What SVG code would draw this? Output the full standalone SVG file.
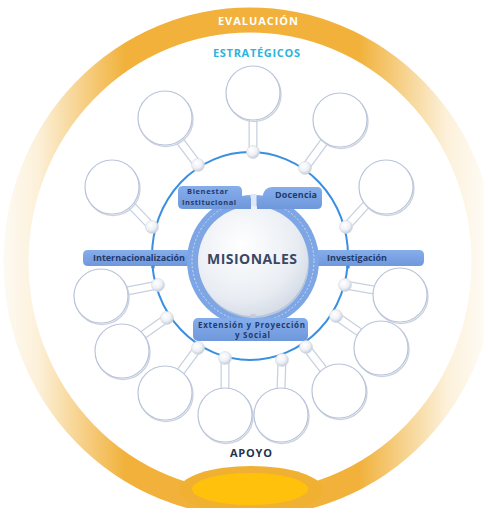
<svg xmlns="http://www.w3.org/2000/svg" width="484" height="508" viewBox="0 0 484 508">
<defs>
  <linearGradient id="ringGrad" x1="0" y1="0" x2="484" y2="0" gradientUnits="userSpaceOnUse">
    <stop offset="0" stop-color="#fefbf5"/>
    <stop offset="0.08" stop-color="#fcf0d8"/>
    <stop offset="0.26" stop-color="#f1b13a"/>
    <stop offset="0.74" stop-color="#f1b13a"/>
    <stop offset="0.92" stop-color="#fcf0d8"/>
    <stop offset="1" stop-color="#fefbf5"/>
  </linearGradient>
  <radialGradient id="centerGrad" cx="0.4" cy="0.35" r="0.7">
    <stop offset="0" stop-color="#ffffff"/>
    <stop offset="0.7" stop-color="#e9edf3"/>
    <stop offset="1" stop-color="#d3dae5"/>
  </radialGradient>
  <radialGradient id="nodeGrad" cx="0.4" cy="0.35" r="0.65">
    <stop offset="0" stop-color="#ffffff"/>
    <stop offset="0.6" stop-color="#eef1f5"/>
    <stop offset="1" stop-color="#c3ccd9"/>
  </radialGradient>
  <linearGradient id="tabGrad" x1="0" y1="0" x2="0" y2="1">
    <stop offset="0" stop-color="#86adeb"/>
    <stop offset="1" stop-color="#6f98dc"/>
  </linearGradient>
</defs>
<style>
  .lbl { font-family: "Open Sans", "Liberation Sans", sans-serif; font-weight: 700; text-anchor: middle; }
  .tab { fill: url(#tabGrad); }
  .tabtxt { fill: #1f3b6b; font-size: 9px; }
  .small { font-size: 8px; }
  .tiny { font-size: 7.5px; }
  .bubble-shadow { fill: none; stroke: #cdd3de; stroke-width: 1.4; }
  .bubble { fill: #ffffff; stroke: #b9c4db; stroke-width: 1.2; }
  .stem-out { stroke: #c6d0e0; stroke-width: 9; stroke-linecap: butt; }
  .stem-in { stroke: #ffffff; stroke-width: 6.5; stroke-linecap: butt; }
  .node { fill: url(#nodeGrad); stroke: #d3d9e3; stroke-width: 0.6; }
</style>
<rect width="484" height="508" fill="#ffffff"/>

<!-- outer evaluation ring -->
<g id="ring">
  <ellipse cx="250" cy="262" rx="234" ry="242" fill="none" stroke="url(#ringGrad)" stroke-width="25"/>
  <ellipse cx="251" cy="490" rx="72" ry="24" fill="#f0b132"/>
  <ellipse cx="250" cy="489" rx="58" ry="16" fill="#ffc10c"/>
  <text class="lbl" x="258" y="25" font-size="11" fill="#ffffff" textLength="80">EVALUACIÓN</text>
</g>
<text id="estrategicos" class="lbl" x="256.5" y="57" font-size="11" fill="#2db3dc" textLength="87">ESTRATÉGICOS</text>
<text id="apoyo" class="lbl" x="251" y="457" font-size="11" fill="#1d3450" textLength="42">APOYO</text>

<!-- thin blue orbit -->
<ellipse id="orbit" cx="250" cy="256" rx="98" ry="104" fill="none" stroke="#3a8fe0" stroke-width="2"/>

<!-- connectors (stems) -->
<g id="connectors">
  <g class="stem-out">
    <line x1="253" y1="152" x2="253" y2="119"/>
    <line x1="198" y1="165" x2="180" y2="141"/>
    <line x1="152" y1="227" x2="131" y2="205"/>
    <line x1="305" y1="168" x2="324" y2="142"/>
    <line x1="346" y1="227" x2="366" y2="205"/>
    <line x1="158" y1="285" x2="127" y2="291"/>
    <line x1="167" y1="318" x2="143" y2="335"/>
    <line x1="198" y1="348" x2="181" y2="371"/>
    <line x1="225" y1="358" x2="225" y2="389"/>
    <line x1="282" y1="360" x2="281" y2="389"/>
    <line x1="306" y1="347" x2="323" y2="369"/>
    <line x1="336" y1="316" x2="359" y2="332"/>
    <line x1="345" y1="285" x2="374" y2="290"/>
  </g>
  <g class="stem-in">
    <line x1="253" y1="152" x2="253" y2="119"/>
    <line x1="198" y1="165" x2="180" y2="141"/>
    <line x1="152" y1="227" x2="131" y2="205"/>
    <line x1="305" y1="168" x2="324" y2="142"/>
    <line x1="346" y1="227" x2="366" y2="205"/>
    <line x1="158" y1="285" x2="127" y2="291"/>
    <line x1="167" y1="318" x2="143" y2="335"/>
    <line x1="198" y1="348" x2="181" y2="371"/>
    <line x1="225" y1="358" x2="225" y2="389"/>
    <line x1="282" y1="360" x2="281" y2="389"/>
    <line x1="306" y1="347" x2="323" y2="369"/>
    <line x1="336" y1="316" x2="359" y2="332"/>
    <line x1="345" y1="285" x2="374" y2="290"/>
  </g>
</g>

<!-- bubbles -->
<g id="bubble-1"><circle class="bubble-shadow" cx="254" cy="94.5" r="27"/><circle class="bubble" cx="253" cy="93" r="27"/></g>
<g id="bubble-2"><circle class="bubble-shadow" cx="166" cy="119.5" r="27"/><circle class="bubble" cx="165" cy="118" r="27"/></g>
<g id="bubble-3"><circle class="bubble-shadow" cx="113" cy="188.5" r="27"/><circle class="bubble" cx="112" cy="187" r="27"/></g>
<g id="bubble-4"><circle class="bubble-shadow" cx="341" cy="121.5" r="27"/><circle class="bubble" cx="340" cy="120" r="27"/></g>
<g id="bubble-5"><circle class="bubble-shadow" cx="387" cy="188.5" r="27"/><circle class="bubble" cx="386" cy="187" r="27"/></g>
<g id="bubble-6"><circle class="bubble-shadow" cx="102" cy="297.5" r="27"/><circle class="bubble" cx="101" cy="296" r="27"/></g>
<g id="bubble-7"><circle class="bubble-shadow" cx="123" cy="352.5" r="27"/><circle class="bubble" cx="122" cy="351" r="27"/></g>
<g id="bubble-8"><circle class="bubble-shadow" cx="166" cy="394.5" r="27"/><circle class="bubble" cx="165" cy="393" r="27"/></g>
<g id="bubble-9"><circle class="bubble-shadow" cx="226" cy="416.5" r="27"/><circle class="bubble" cx="225" cy="415" r="27"/></g>
<g id="bubble-10"><circle class="bubble-shadow" cx="282" cy="416.5" r="27"/><circle class="bubble" cx="281" cy="415" r="27"/></g>
<g id="bubble-11"><circle class="bubble-shadow" cx="340" cy="392.5" r="27"/><circle class="bubble" cx="339" cy="391" r="27"/></g>
<g id="bubble-12"><circle class="bubble-shadow" cx="382" cy="349.5" r="27"/><circle class="bubble" cx="381" cy="348" r="27"/></g>
<g id="bubble-13"><circle class="bubble-shadow" cx="401" cy="296.5" r="27"/><circle class="bubble" cx="400" cy="295" r="27"/></g>

<!-- joints on orbit -->
<g id="joints">
  <circle class="node" cx="253" cy="152" r="6.5"/>
  <circle class="node" cx="198" cy="165" r="6.5"/>
  <circle class="node" cx="152" cy="227" r="6.5"/>
  <circle class="node" cx="305" cy="168" r="6.5"/>
  <circle class="node" cx="346" cy="227" r="6.5"/>
  <circle class="node" cx="158" cy="285" r="6.5"/>
  <circle class="node" cx="167" cy="318" r="6.5"/>
  <circle class="node" cx="198" cy="348" r="6.5"/>
  <circle class="node" cx="225" cy="358" r="6.5"/>
  <circle class="node" cx="282" cy="360" r="6.5"/>
  <circle class="node" cx="306" cy="347" r="6.5"/>
  <circle class="node" cx="336" cy="316" r="6.5"/>
  <circle class="node" cx="345" cy="285" r="6.5"/>
</g>

<!-- side bars -->
<g id="internacionalizacion">
  <path class="tab" d="M88 250 H210 V266 H88 Q83 266 83 261 V255 Q83 250 88 250 Z"/>
  <circle cx="153" cy="267" r="1.8" fill="#3a8fe0"/>
  <text class="lbl tabtxt" x="139" y="261" textLength="92">Internacionalización</text>
</g>
<g id="investigacion">
  <path class="tab" d="M300 250 H419 Q424 250 424 255 V261 Q424 266 419 266 H300 Z"/>
  <circle cx="348" cy="267" r="1.8" fill="#3a8fe0"/>
  <text class="lbl tabtxt" x="357" y="261" textLength="60">Investigación</text>
</g>

<!-- central misionales -->
<g id="misionales">
  <circle cx="253" cy="261" r="66" fill="#7ea6e5"/>
  <rect x="250.5" y="194" width="6" height="12" fill="#dfe8f6"/>
  <circle cx="253" cy="261" r="61" fill="none" stroke="#dbe6f8" stroke-width="0.8" stroke-dasharray="2 2"/>
  <circle cx="254" cy="263" r="55" fill="#b9c7dc"/>
  <circle cx="253" cy="261" r="55" fill="url(#centerGrad)"/>
  <rect x="250.5" y="314" width="5" height="5" fill="#c9ccd2"/>
  <text class="lbl" x="252" y="264" font-size="14" fill="#3b4763" textLength="90">MISIONALES</text>
</g>

<g id="bienestar">
  <path class="tab" d="M183 186 H237 Q242 186 242 191 V198 H251 V209 H183 Q178 209 178 204 V191 Q178 186 183 186 Z"/>
  <text class="lbl tabtxt tiny" x="207.5" y="194" textLength="41">Bienestar</text>
  <text class="lbl tabtxt tiny" x="209" y="204.5" textLength="54">Institucional</text>
</g>
<g id="docencia">
  <path class="tab" d="M257 198 H262 Q264 187 272 187 H317 Q322 187 322 192 V204 Q322 209 317 209 H257 Z"/>
  <text class="lbl tabtxt" x="296" y="198" textLength="42">Docencia</text>
</g>
<g id="extension">
  <rect class="tab" x="193" y="318" width="115" height="23" rx="5"/>
  <text class="lbl tabtxt small" x="251.5" y="327.5" textLength="107">Extensión y Proyección</text>
  <text class="lbl tabtxt small" x="252.5" y="338" textLength="35">y Social</text>
</g>
</svg>
